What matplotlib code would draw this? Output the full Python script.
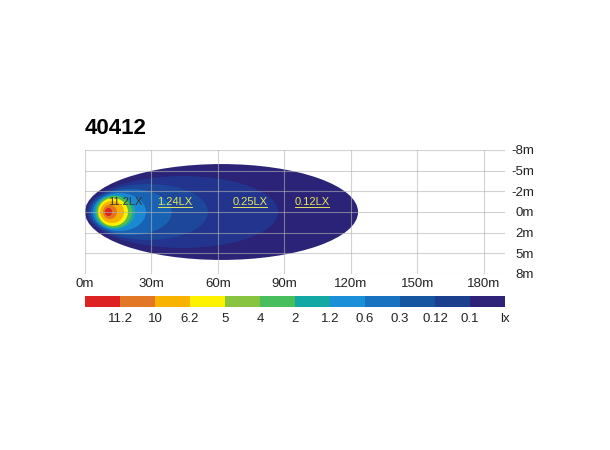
import matplotlib.pyplot as plt
from matplotlib.patches import Ellipse

plt.rcParams['font.family'] = ['Liberation Sans', 'DejaVu Sans']

title = "40412"
x_ticks = [0, 30, 60, 90, 120, 150, 180]
y_labels = ["-8m", "-5m", "-2m", "0m", "2m", "5m", "8m"]

# isolux contours: start / end distance (m), full spread (grid rows)
cont_start = [0, 0.9, 1.8, 2.7, 3.6, 4.5, 5.0, 5.9, 6.8, 8.1, 9.0]
cont_end = [123.2, 87.1, 55.5, 39.2, 27.5, 22.6, 21.2, 19.4, 17.6, 14.4, 12.2]
cont_spread = [4.64, 3.48, 2.71, 2.23, 1.84, 1.64, 1.55, 1.35, 1.06, 0.68, 0.39]
cont_colors = ['#2b2378', '#23348e', '#1c479a', '#1862b4', '#1b88d2', '#19a7a8',
               '#52bd4c', '#fff200', '#f6b000', '#e5731f', '#d8231f']

lux_labels = ["11.2LX", "1.24LX", "0.25LX", "0.12LX"]
lux_x = [18, 40.6, 74.4, 102.4]
lux_colors = ['#333333', '#e6e65a', '#e6e65a', '#e6e65a']

scale_values = ["11.2", "10", "6.2", "5", "4", "2", "1.2", "0.6", "0.3", "0.12", "0.1", "lx"]
scale_colors = ['#dd2222', '#e27726', '#f8b300', '#fff200', '#88c43f', '#48bf5c',
                '#13a8a4', '#1b8fd8', '#1872c0', '#16559f', '#1a3f8d', '#2e2378']

fig = plt.figure(figsize=(6.1, 4.5), dpi=100)
ax = fig.add_axes([85 / 610, 176 / 450, 420 / 610, 124 / 450])

for s, e, h, c in zip(cont_start, cont_end, cont_spread, cont_colors):
    ax.add_patch(Ellipse(((s + e) / 2, 3), e - s, h, color=c, lw=0, zorder=2))

for xv in x_ticks:
    ax.axvline(xv, color='#b4b4b4', lw=0.8, alpha=0.6, zorder=3)
for yv in range(7):
    ax.axhline(yv, color='#b4b4b4', lw=0.8, alpha=0.6, zorder=3)

for lab, xv, c in zip(lux_labels, lux_x, lux_colors):
    ax.text(xv, 2.5, lab, color=c, fontsize=8, ha='center', va='center', zorder=5)
    if lab != "11.2LX":
        ax.plot([xv - 7.6, xv + 7.6], [2.78, 2.78], color=c, lw=0.7, zorder=5)

ax.set_xlim(0, 189.5)
ax.set_ylim(6, 0)
ax.set_xticks(x_ticks)
ax.set_xticklabels([f"{v}m" for v in x_ticks])
ax.set_yticks(range(7))
ax.set_yticklabels(y_labels, ha='right')
ax.yaxis.tick_right()
ax.tick_params(axis='x', length=0, pad=3, labelsize=9.5, colors='#222222')
ax.tick_params(axis='y', length=0, pad=21, labelsize=9.5, colors='#222222')
for sp in ax.spines.values():
    sp.set_visible(False)

ax.text(0, -0.55, title, fontsize=16, fontweight='bold', ha='left', va='bottom')

cb = fig.add_axes([85 / 610, 143 / 450, 420 / 610, 11 / 450])
cb.bar(range(len(scale_colors)), [1] * len(scale_colors), width=1, align='edge',
       color=scale_colors)
cb.set_xlim(0, len(scale_colors))
cb.set_ylim(0, 1)
cb.set_xticks(range(1, len(scale_values) + 1))
cb.set_xticklabels(scale_values)
cb.set_yticks([])
cb.tick_params(axis='x', length=0, pad=4, labelsize=9.5, colors='#222222')
for sp in cb.spines.values():
    sp.set_visible(False)

fig.savefig("out.png", dpi=100)
